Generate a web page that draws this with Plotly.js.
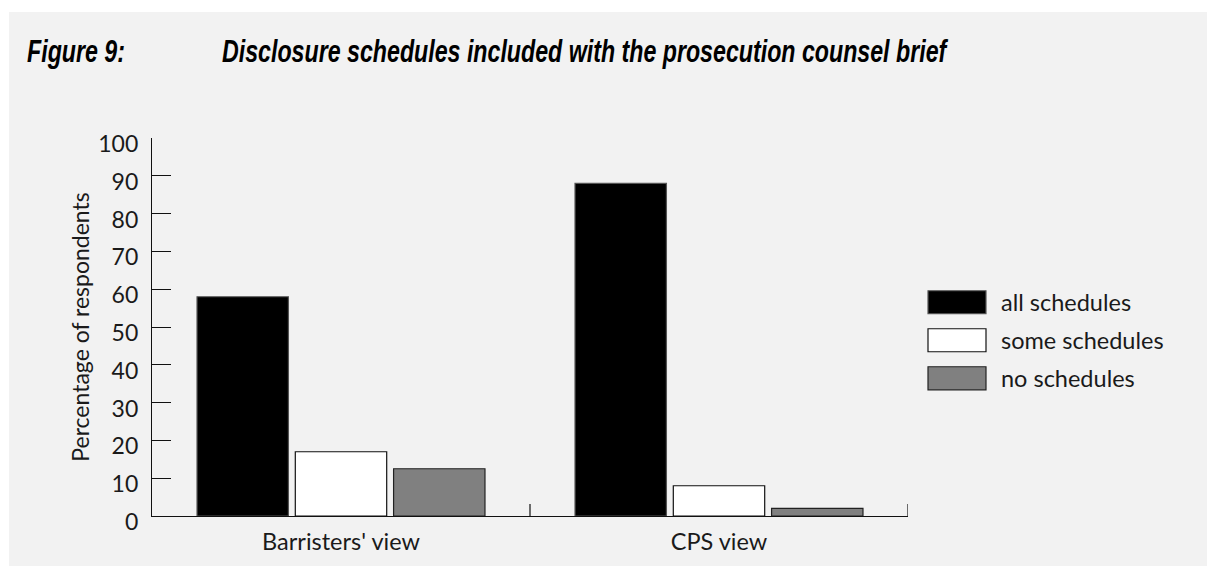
<!DOCTYPE html>
<html>
<head>
<meta charset="utf-8">
<script src="https://cdn.plot.ly/plotly-3.0.1.min.js"></script>
<style>
  html, body { margin: 0; padding: 0; background: #ffffff; }
  #chart { position: absolute; left: 9px; top: 12px; width: 1198px; height: 554px; }
</style>
</head>
<body>
<div id="chart"></div>
<script>
// ---- data ----
var categories = ["Barristers' view", "CPS view"];
var seriesNames = ["all schedules", "some schedules", "no schedules"];
var allSchedules = [58, 88];
var someSchedules = [17, 8];
var noSchedules = [12.5, 2];
var yTickValues = [0, 10, 20, 30, 40, 50, 60, 70, 80, 90, 100];

var figureLabel = "Figure 9:";
var chartTitle = "Disclosure schedules included with the prosecution counsel brief";
var yTitle = "Percentage of respondents";

// ---- styles ----
var fills = ["#000000", "#ffffff", "#808080"];
var outlines = ["#555555", "#111111", "#222222"];
var seriesValues = [allSchedules, someSchedules, noSchedules];
var labelFont = "Lato, 'Open Sans', sans-serif";
var titleFont = "'Liberation Sans', Arial, sans-serif";

var data = seriesValues.map(function (vals, i) {
  return {
    type: 'bar',
    name: seriesNames[i],
    x: categories,
    y: vals,
    legendgroup: 'g' + i,
    marker: { color: fills[i], line: { color: outlines[i], width: 1.2 } },
    hoverinfo: 'x+y+name'
  };
});

// inside ticks at the category boundaries of the x axis (the left one sits on the y axis)
var tickShapes = [];
for (var b = 1; b <= categories.length; b++) {
  tickShapes.push({
    type: 'line', xref: 'x', yref: 'y',
    x0: b - 0.5, x1: b - 0.5,
    ysizemode: 'pixel', yanchor: 0, y0: 0, y1: 12,
    line: { color: '#111111', width: 1.2 }
  });
}

var layout = {
  width: 1198,
  height: 554,
  paper_bgcolor: '#f2f2f2',
  plot_bgcolor: 'rgba(0,0,0,0)',
  margin: { l: 143, r: 299, t: 126, b: 50, pad: 0 },
  barmode: 'group',
  bargap: 0.22,
  bargroupgap: 0.07,
  font: { family: labelFont, color: '#1a1a1a', size: 20 },
  title: {
    text: '<b><i>' + chartTitle + '</i></b>',
    font: { family: titleFont, size: 32, color: '#000000' },
    xref: 'container', x: 213 / 1198, xanchor: 'left',
    yref: 'container', y: 1 - 39 / 554, yanchor: 'middle'
  },
  annotations: [{
    text: '<b><i>' + figureLabel + '</i></b>',
    font: { family: titleFont, size: 32, color: '#000000' },
    xref: 'paper', yref: 'paper',
    x: (26 - 152) / 756, xanchor: 'left',
    y: (516 - 51) / 378, yanchor: 'middle',
    showarrow: false, borderpad: 0
  }],
  shapes: tickShapes,
  xaxis: {
    type: 'category',
    range: [-0.5, categories.length - 0.5],
    showline: true, linecolor: '#111111', linewidth: 1.3,
    ticks: '',
    showgrid: false, zeroline: false,
    tickfont: { family: labelFont, size: 23.5, color: '#1a1a1a' },
    ticklabelstandoff: 5,
    fixedrange: true
  },
  yaxis: {
    range: [0, 100],
    tickvals: yTickValues,
    ticktext: yTickValues.map(String),
    showline: true, linecolor: '#111111', linewidth: 1.3,
    ticks: 'inside', ticklen: 19, tickwidth: 1.2, tickcolor: '#111111',
    showgrid: false, zeroline: false,
    tickfont: { family: labelFont, size: 23, color: '#1a1a1a' },
    ticklabelstandoff: 8,
    ticklabelshift: 6,
    title: { text: yTitle, font: { family: labelFont, size: 23, color: '#1a1a1a' }, standoff: 2 },
    fixedrange: true
  },
  showlegend: true,
  legend: {
    x: (931 - 152) / 756, xanchor: 'left',
    y: (516 - 280.5) / 378, yanchor: 'top',
    bgcolor: 'rgba(0,0,0,0)',
    font: { family: labelFont, size: 23.5, color: '#1a1a1a' },
    itemwidth: 60,
    tracegroupgap: 10,
    traceorder: 'normal'
  }
};

function squeezeText(el, targetWidth) {
  if (!el) return;
  var bb = el.getBBox();
  if (!bb.width) return;
  var s = targetWidth / bb.width;
  var existing = el.getAttribute('transform') || '';
  el.setAttribute('transform', existing + ' translate(' + bb.x + ',0) scale(' + s + ',1) translate(' + (-bb.x) + ',0)');
}

var gd = document.getElementById('chart');
Plotly.newPlot(gd, data, layout, { displayModeBar: false }).then(function () {
  // legend swatches as wide rectangles like the reference
  var items = Array.prototype.slice.call(gd.querySelectorAll('.legend .traces'));
  items.forEach(function (g) {
    var txt = g.querySelector('text.legendtext');
    var tx = parseFloat(txt.getAttribute('x')) || 70;
    var paths = g.querySelectorAll('.legendpoints path');
    paths.forEach(function (p) {
      p.removeAttribute('transform');
      p.setAttribute('d', 'M' + (tx - 73) + ',-11.5H' + (tx - 15) + 'V11.5H' + (tx - 73) + 'Z');
    });
  });
  // even 38px spacing between legend entries
  var sb = gd.querySelector('.legend .scrollbox');
  if (sb) sb.removeAttribute('clip-path');
  var centers = items.map(function (g) {
    var r = g.querySelector('.legendpoints path').getBoundingClientRect();
    return r.top + r.height / 2;
  });
  items.forEach(function (g, i) {
    var d = centers[0] + i * 38 - centers[i];
    g.setAttribute('transform', (g.getAttribute('transform') || '') + ' translate(0,' + d + ')');
  });
  // condensed title lettering
  squeezeText(gd.querySelector('.g-gtitle text'), 727);
  squeezeText(gd.querySelector('.annotation-text'), 98);
});
</script>
</body>
</html>
